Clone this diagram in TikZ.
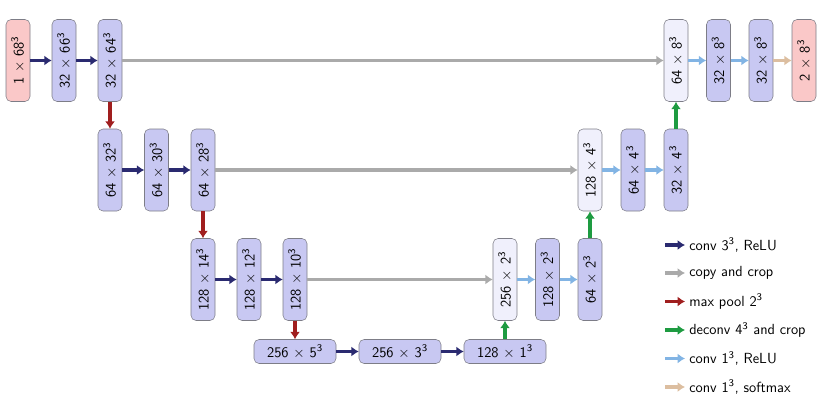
\documentclass[tikz,border=0pt]{standalone}
\usetikzlibrary{arrows.meta}

\definecolor{blkfill}{RGB}{200,200,242}
\definecolor{catfill}{RGB}{240,240,252}
\definecolor{iofill}{RGB}{250,200,200}
\definecolor{blkline}{RGB}{125,125,135}
\definecolor{convcol}{RGB}{42,42,112}
\definecolor{copycol}{RGB}{170,170,170}
\definecolor{poolcol}{RGB}{160,30,30}
\definecolor{upcol}{RGB}{30,155,65}
\definecolor{onecol}{RGB}{130,180,228}
\definecolor{softcol}{RGB}{220,190,160}

\newcommand{\dims}[2]{#1 $\times$ #2\textsuperscript{3}}

\begin{document}
\begin{tikzpicture}[x=0.75pt, y=-0.75pt,
    txt/.style={font=\sffamily\fontsize{11}{13}\selectfont},
    blk/.style={txt, draw=blkline, fill=blkfill, rounded corners=3.8pt,
        minimum width=61.5pt, minimum height=18pt, inner sep=1pt},
    vblk/.style={blk, rotate=90},
    catblk/.style={vblk, fill=catfill},
    ioblk/.style={vblk, fill=iofill},
    link/.style={line width=2.5pt, draw=#1, -{Latex[length=5.5pt,width=7.5pt,fill=#1]}},
    conv/.style={link=convcol},
    copy/.style={link=copycol},
    pool/.style={link=poolcol},
    upconv/.style={link=upcol},
    convone/.style={link=onecol},
    soft/.style={link=softcol},
    key/.style={txt, anchor=west, inner sep=0pt, inner xsep=3pt}
]
    % --- SETTINGS ---
    \def\rowA{60.5}
    \def\rowB{170}
    \def\rowC{279.5}
    \def\rowD{351.5}
    \useasboundingbox (0,0) rectangle (821,401);

    % =========================================
    % CONTRACTING PATH
    % =========================================
    \node[ioblk] (in)  at (18,\rowA)  {\dims{1}{68}};
    \node[vblk]  (c1a) at (64,\rowA)  {\dims{32}{66}};
    \node[vblk]  (c1b) at (110,\rowA) {\dims{32}{64}};

    \node[vblk]  (c2a) at (110,\rowB) {\dims{64}{32}};
    \node[vblk]  (c2b) at (156.5,\rowB) {\dims{64}{30}};
    \node[vblk]  (c2c) at (203,\rowB) {\dims{64}{28}};

    \node[vblk]  (c3a) at (203,\rowC) {\dims{128}{14}};
    \node[vblk]  (c3b) at (249,\rowC) {\dims{128}{12}};
    \node[vblk]  (c3c) at (295,\rowC) {\dims{128}{10}};

    % Bottom (horizontal blocks)
    \node[blk] (b1) at (295,\rowD) {\dims{256}{5}};
    \node[blk] (b2) at (400,\rowD) {\dims{256}{3}};
    \node[blk] (b3) at (505,\rowD) {\dims{128}{1}};

    % =========================================
    % EXPANDING PATH
    % =========================================
    \node[catblk] (u3a) at (505,\rowC)   {\dims{256}{2}};
    \node[vblk]   (u3b) at (547.5,\rowC) {\dims{128}{2}};
    \node[vblk]   (u3c) at (590,\rowC)   {\dims{64}{2}};

    \node[catblk] (u2a) at (590,\rowB) {\dims{128}{4}};
    \node[vblk]   (u2b) at (633,\rowB) {\dims{64}{4}};
    \node[vblk]   (u2c) at (676,\rowB) {\dims{32}{4}};

    \node[catblk] (u1a) at (676,\rowA)   {\dims{64}{8}};
    \node[vblk]   (u1b) at (718.5,\rowA) {\dims{32}{8}};
    \node[vblk]   (u1c) at (761,\rowA)   {\dims{32}{8}};
    \node[ioblk]  (out) at (804,\rowA)   {\dims{2}{8}};

    % =========================================
    % CONNECTIONS
    % =========================================
    \foreach \a/\b in {in/c1a, c1a/c1b, c2a/c2b, c2b/c2c, c3a/c3b, c3b/c3c, b1/b2, b2/b3}
        \draw[conv] (\a) -- (\b);
    \foreach \a/\b in {c1b/u1a, c2c/u2a, c3c/u3a}
        \draw[copy] (\a) -- (\b);
    \foreach \a/\b in {c1b/c2a, c2c/c3a, c3c/b1}
        \draw[pool] (\a) -- (\b);
    \foreach \a/\b in {b3/u3a, u3c/u2a, u2c/u1a}
        \draw[upconv] (\a) -- (\b);
    \foreach \a/\b in {u1a/u1b, u1b/u1c, u2a/u2b, u2b/u2c, u3a/u3b, u3b/u3c}
        \draw[convone] (\a) -- (\b);
    \draw[soft] (u1c) -- (out);

    % =========================================
    % LEGEND
    % =========================================
    \foreach \st/\y/\lbl [count=\i] in {
        conv/245/{conv 3\textsuperscript{3}, ReLU},
        copy/273/{copy and crop},
        pool/301.5/{max pool 2\textsuperscript{3}},
        upconv/330/{deconv 4\textsuperscript{3} and crop},
        convone/358.5/{conv 1\textsuperscript{3}, ReLU},
        soft/387/{conv 1\textsuperscript{3}, softmax}} {
        \coordinate (k\i) at (665,\y);
        \node[key] (l\i) at (685,\y) {\lbl};
        \draw[\st] (k\i) -- (l\i.west);
    }
\end{tikzpicture}
\end{document}
